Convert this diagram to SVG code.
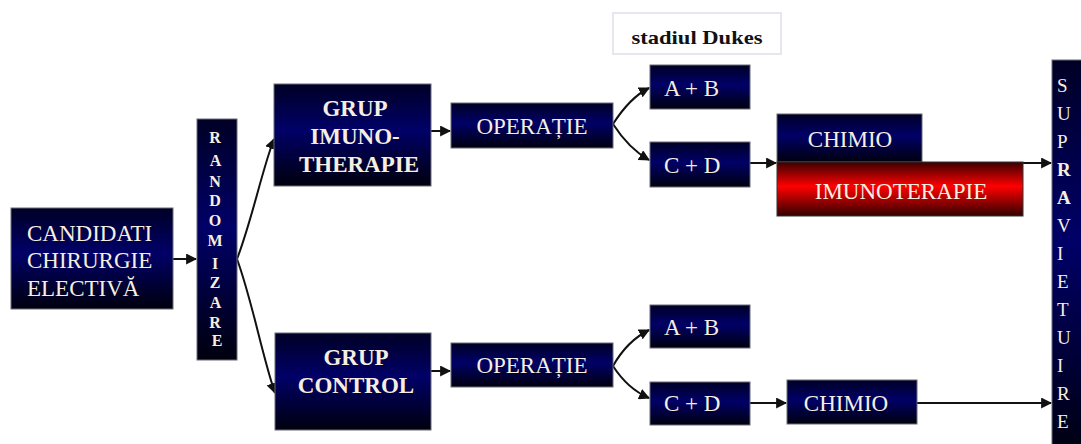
<svg xmlns="http://www.w3.org/2000/svg" width="1081" height="444" viewBox="0 0 1081 444">
<defs>
<linearGradient id="navy" x1="0" y1="0" x2="0" y2="1">
<stop offset="0" stop-color="#000026"/>
<stop offset="0.45" stop-color="#000068"/>
<stop offset="1" stop-color="#00000e"/>
</linearGradient>
<linearGradient id="red" x1="0" y1="0" x2="0" y2="1">
<stop offset="0" stop-color="#3a0000"/>
<stop offset="0.45" stop-color="#ff0000"/>
<stop offset="1" stop-color="#300000"/>
</linearGradient>
<marker id="ah" viewBox="0 0 10 10" refX="9" refY="5" markerWidth="5.5" markerHeight="5.5" orient="auto" markerUnits="strokeWidth">
<path d="M0,0 L10,5 L0,10 z" fill="#111"/>
</marker>
<style>
.box{fill:url(#navy);stroke:#6a6a78;stroke-width:1}
.redbox{fill:url(#red);stroke:#333;stroke-width:1}
text{font-family:"Liberation Serif","Times New Roman","DejaVu Serif",serif}
.t{fill:#f6efe0;font-size:23px}
.b{font-weight:bold}
.c{stroke:#111;stroke-width:2;fill:none;marker-end:url(#ah)}
</style>
</defs>
<rect width="1081" height="444" fill="#fff"/>

<g id="connectors">
<path class="c" d="M173,259 L196,259"/>
<path class="c" d="M237,259 C252,220 262,170 274,139"/>
<path class="c" d="M237,259 C252,300 262,355 275,393"/>
<path class="c" d="M431,131 L450,131"/>
<path class="c" d="M431,371 L450,371"/>
<path class="c" d="M613,124 C622,110 635,95 649,88"/>
<path class="c" d="M613,124 C622,138 635,152 649,160"/>
<path class="c" d="M613,366 C622,350 635,337 649,330"/>
<path class="c" d="M613,366 C622,380 635,392 649,398"/>
<path class="c" d="M750,163 L776,163"/>
<path class="c" d="M1023,163 L1051,163"/>
<path class="c" d="M750,403 L786,403"/>
<path class="c" d="M917,403 L1051,403"/>
</g>

<g id="stadiul">
<rect x="613" y="13" width="168" height="41" fill="#fff" stroke="#e6e6ee" stroke-width="2"/>
<text x="697" y="44" text-anchor="middle" font-weight="bold" font-size="19" fill="#111" textLength="131" lengthAdjust="spacingAndGlyphs">stadiul Dukes</text>
</g>

<g id="candidati">
<rect class="box" x="11" y="208" width="162" height="101"/>
<text class="t" x="27" y="241">CANDIDATI</text>
<text class="t" x="27" y="268">CHIRURGIE</text>
<text class="t" x="27" y="296">ELECTIVĂ</text>
</g>

<g id="randomizare">
<rect class="box" x="197" y="119" width="40" height="241"/>
<text class="t b" text-anchor="middle" style="font-size:16px">
<tspan x="217" y="143">R</tspan>
<tspan x="217" y="166">A</tspan>
<tspan x="217" y="187">N</tspan>
<tspan x="217" y="206">D</tspan>
<tspan x="217" y="226">O</tspan>
<tspan x="217" y="246">M</tspan>
<tspan x="217" y="269">I</tspan>
<tspan x="217" y="288">Z</tspan>
<tspan x="217" y="308">A</tspan>
<tspan x="217" y="328">R</tspan>
<tspan x="217" y="346">E</tspan>
</text>
</g>

<g id="grup-imuno">
<rect class="box" x="274" y="84" width="157" height="102"/>
<text class="t b" x="355" y="116" text-anchor="middle">GRUP</text>
<text class="t b" x="355" y="144" text-anchor="middle">IMUNO-</text>
<text class="t b" x="359" y="172" text-anchor="middle">THERAPIE</text>
</g>

<g id="operatie-1">
<rect class="box" x="451" y="103" width="162" height="45"/>
<text class="t" x="532" y="134" text-anchor="middle">OPERAȚIE</text>
</g>

<g id="ab-1">
<rect class="box" x="650" y="65" width="100" height="44"/>
<text class="t" x="664" y="96">A + B</text>
</g>

<g id="cd-1">
<rect class="box" x="650" y="142" width="100" height="45"/>
<text class="t" x="664" y="173">C + D</text>
</g>

<g id="chimio-1">
<rect class="box" x="777" y="114" width="145" height="48"/>
<text class="t" x="850" y="147" text-anchor="middle">CHIMIO</text>
</g>

<g id="imunoterapie">
<rect class="redbox" x="777" y="162" width="246" height="54"/>
<text class="t" x="901" y="199" text-anchor="middle">IMUNOTERAPIE</text>
</g>

<g id="grup-control">
<rect class="box" x="275" y="333" width="156" height="97"/>
<text class="t b" x="356" y="365" text-anchor="middle">GRUP</text>
<text class="t b" x="356" y="393" text-anchor="middle">CONTROL</text>
</g>

<g id="operatie-2">
<rect class="box" x="451" y="343" width="162" height="44"/>
<text class="t" x="532" y="373" text-anchor="middle">OPERAȚIE</text>
</g>

<g id="ab-2">
<rect class="box" x="650" y="305" width="100" height="43"/>
<text class="t" x="664" y="335">A + B</text>
</g>

<g id="cd-2">
<rect class="box" x="650" y="382" width="100" height="43"/>
<text class="t" x="664" y="411">C + D</text>
</g>

<g id="chimio-2">
<rect class="box" x="787" y="380" width="130" height="44"/>
<text class="t" x="846" y="411" text-anchor="middle">CHIMIO</text>
</g>

<g id="supravietuire">
<rect class="box" x="1052" y="60" width="40" height="400"/>
<text class="t" style="font-size:19px">
<tspan x="1057" y="92">S</tspan>
<tspan x="1057" y="120">U</tspan>
<tspan x="1057" y="148">P</tspan>
<tspan x="1057" y="176" font-weight="bold">R</tspan>
<tspan x="1057" y="204" font-weight="bold">A</tspan>
<tspan x="1057" y="232">V</tspan>
<tspan x="1057" y="260">I</tspan>
<tspan x="1057" y="288">E</tspan>
<tspan x="1057" y="316">T</tspan>
<tspan x="1057" y="344">U</tspan>
<tspan x="1057" y="372">I</tspan>
<tspan x="1057" y="400">R</tspan>
<tspan x="1057" y="428">E</tspan>
</text>
</g>
</svg>
